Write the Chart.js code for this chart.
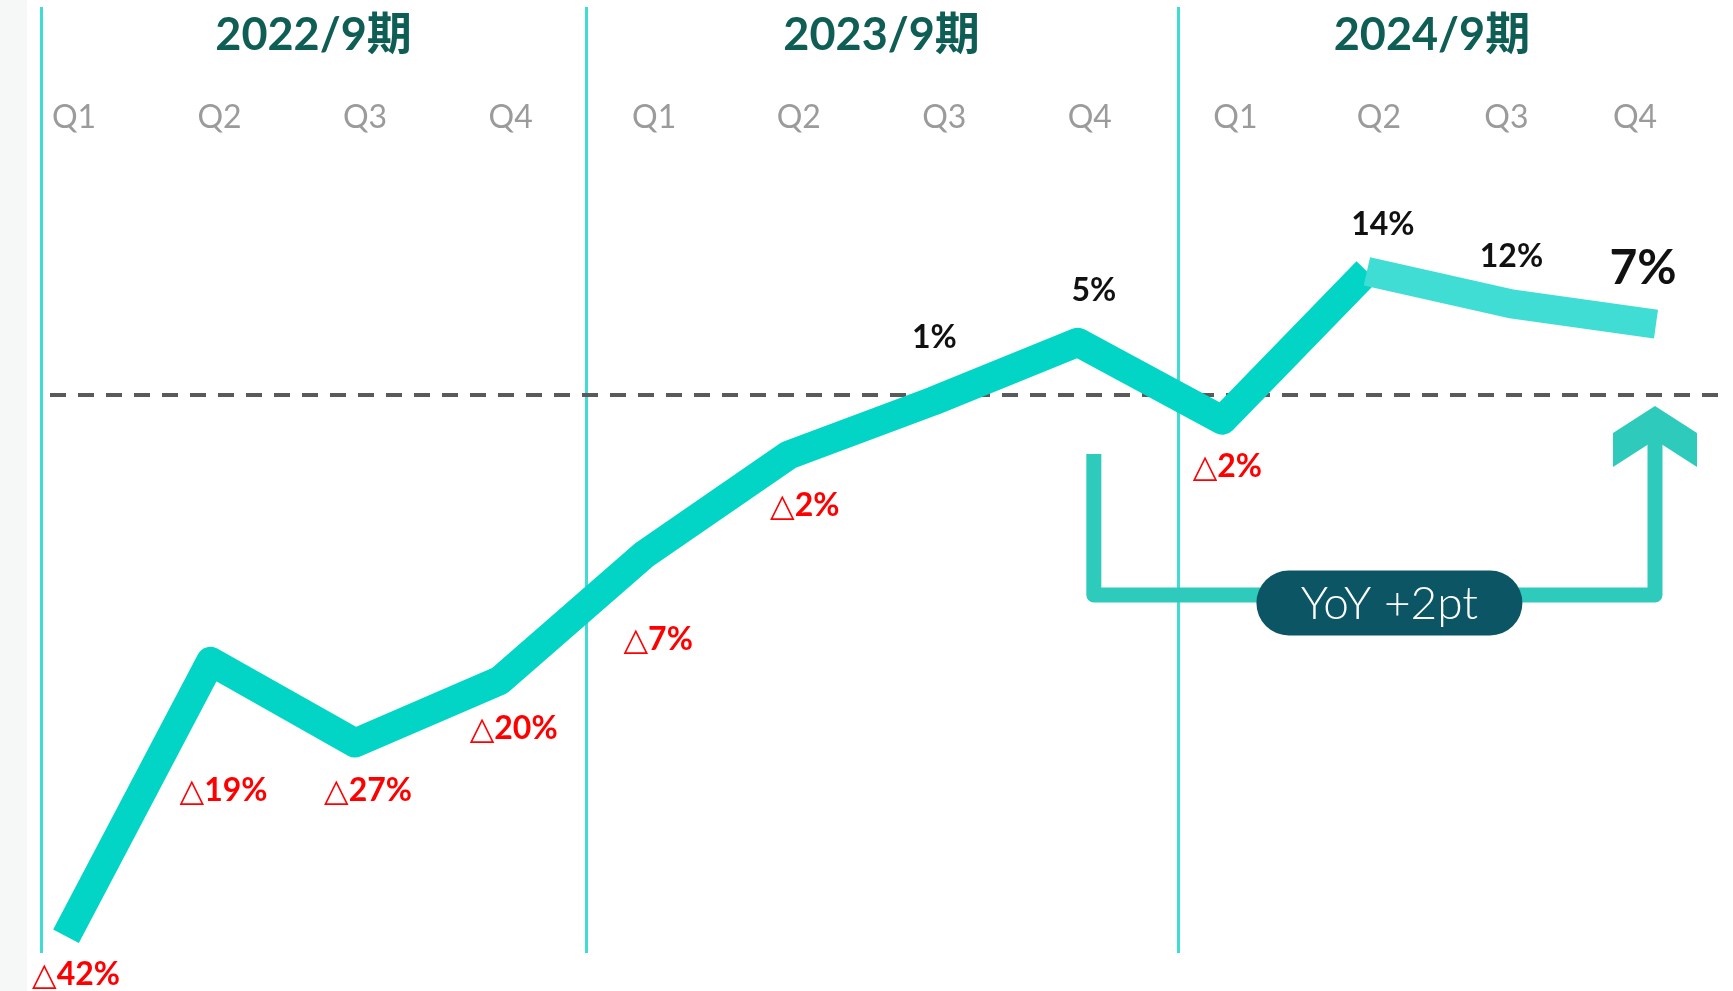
<!DOCTYPE html>
<html>
<head>
<meta charset="utf-8">
<script src="https://cdn.jsdelivr.net/npm/chart.js@4"></script>
<style>
  html, body { margin: 0; padding: 0; background: #fff; }
  #wrap { width: 1733px; height: 991px; }
</style>
</head>
<body>
<div id="wrap"><canvas id="yoyChart" width="1733" height="991"></canvas></div>
<script>
// data
const quarters = ['Q1', 'Q2', 'Q3', 'Q4', 'Q1', 'Q2', 'Q3', 'Q4', 'Q1', 'Q2', 'Q3', 'Q4'];
const fiscalYears = ['2022/9期', '2023/9期', '2024/9期'];
const lineLevel = [-45.1, -22.2, -29.0, -23.8, -13.3, -5.0, -0.5, 4.4, -2.1, 10.3, 7.6, 5.9];
const yoyLabels = ['△42%', '△19%', '△27%', '△20%', '△7%', '△2%', '1%', '5%', '△2%', '14%', '12%', '7%'];
const badgeText = 'YoY +2pt';

// layout (label nudges, period borders in category units)
const periodBounds = [-0.17, 3.595, 7.69, 11.21];
const quarterDx = [8, 9, 10, 11, 10, 10, 11, 12, 13, 12, -5, -21];
const labelDx = [10, 13, 13, 14, 14, 16, 1, 16, 5, 16, 0, -13];
const labelDy = [37, 128, 46, 47, 84, 49, -65, -53, 45, -48, -48, -57];

const MAIN = '#02d5c6';
const LIGHT = '#40ddd5';
const BRACKET = '#2ecbbc';
const FONT = 'Lato, "DejaVu Sans", "Noto Sans CJK JP", sans-serif';

const overlay = {
  id: 'overlay',
  beforeDraw(chart) {
    const { ctx, scales: { x, y } } = chart;
    ctx.save();
    ctx.fillStyle = '#fff';
    ctx.fillRect(0, 0, chart.width, chart.height);
    ctx.fillStyle = '#f6f8f8';
    ctx.fillRect(0, 0, 27, chart.height);

    // period dividers
    ctx.strokeStyle = '#3fdcd6';
    ctx.lineWidth = 3;
    for (let i = 0; i < 3; i++) {
      const px = Math.round(x.getPixelForValue(periodBounds[i])) + 0.5;
      ctx.beginPath();
      ctx.moveTo(px, 7);
      ctx.lineTo(px, 953);
      ctx.stroke();
    }

    // zero line
    const y0 = y.getPixelForValue(0);
    ctx.setLineDash([16, 12]);
    ctx.strokeStyle = '#5a5a5a';
    ctx.lineWidth = 4;
    ctx.beginPath();
    ctx.moveTo(50, y0);
    ctx.lineTo(1722, y0);
    ctx.stroke();
    ctx.setLineDash([]);

    // fiscal year headers
    ctx.textAlign = 'center';
    ctx.textBaseline = 'alphabetic';
    ctx.fillStyle = '#0f5e55';
    ctx.font = 'bold 45px ' + FONT;
    fiscalYears.forEach((t, i) => {
      const cx = (x.getPixelForValue(periodBounds[i]) + x.getPixelForValue(periodBounds[i + 1])) / 2;
      ctx.fillText(t, cx, 34 + 16);
    });

    // quarter labels
    ctx.fillStyle = '#9b9b9b';
    ctx.font = '32px ' + FONT;
    quarters.forEach((q, i) => {
      ctx.fillText(q, x.getPixelForValue(i) + quarterDx[i], 116 + 11.5);
    });
    ctx.restore();
  },
  afterDatasetsDraw(chart) {
    const { ctx, scales: { x, y } } = chart;
    const y0 = y.getPixelForValue(0);
    ctx.save();

    // value labels
    ctx.textAlign = 'center';
    ctx.textBaseline = 'alphabetic';
    yoyLabels.forEach((t, i) => {
      const size = i === yoyLabels.length - 1 ? 48 : 32;
      ctx.font = 'bold ' + size + 'px ' + FONT;
      ctx.fillStyle = t.startsWith('△') ? '#ff0000' : '#111';
      const px = x.getPixelForValue(i) + labelDx[i];
      const py = y.getPixelForValue(lineLevel[i]) + labelDy[i];
      ctx.fillText(t, px, py + size * 0.36);
    });

    // YoY bracket + arrow
    const left = x.getPixelForValue(7) + 16;
    const right = x.getPixelForValue(11) - 1;
    const top = y0 + 59;
    const bottom = y0 + 200;
    const tip = y0 + 11;
    ctx.strokeStyle = BRACKET;
    ctx.fillStyle = BRACKET;
    ctx.lineWidth = 15;
    ctx.lineJoin = 'round';
    ctx.lineCap = 'butt';
    ctx.beginPath();
    ctx.moveTo(left, top);
    ctx.lineTo(left, bottom);
    ctx.lineTo(right, bottom);
    ctx.lineTo(right, tip + 30);
    ctx.stroke();
    ctx.beginPath();
    ctx.moveTo(right, tip);
    ctx.lineTo(right + 42, tip + 27);
    ctx.lineTo(right + 42, tip + 61);
    ctx.lineTo(right, tip + 34);
    ctx.lineTo(right - 42, tip + 61);
    ctx.lineTo(right - 42, tip + 27);
    ctx.closePath();
    ctx.fill();

    // badge
    const bw = 266, bh = 65;
    const bx = (left + right) / 2 + 15 - bw / 2;
    const by = y0 + 208 - bh / 2;
    ctx.fillStyle = '#0b5565';
    ctx.beginPath();
    ctx.roundRect(bx, by, bw, bh, bh / 2);
    ctx.fill();
    ctx.fillStyle = '#fff';
    ctx.font = '300 46px ' + FONT;
    ctx.fillText(badgeText, bx + bw / 2, by + bh / 2 + 16);
    ctx.restore();
  }
};

const ctx = document.getElementById('yoyChart').getContext('2d');

new Chart(ctx, {
  type: 'line',
  data: {
    labels: quarters,
    datasets: [{
      data: lineLevel,
      borderColor: MAIN,
      borderWidth: 29,
      borderJoinStyle: 'round',
      borderCapStyle: 'butt',
      pointRadius: 0,
      tension: 0,
      clip: false,
      segment: {
        borderColor: c => c.p0DataIndex >= 9 ? LIGHT : undefined
      }
    }]
  },
  options: {
    responsive: false,
    animation: false,
    events: [],
    layout: { padding: { left: 66, right: 77, top: 155, bottom: 20 } },
    plugins: {
      legend: { display: false },
      tooltip: { enabled: false }
    },
    scales: {
      x: { type: 'category', display: false, offset: false },
      y: { type: 'linear', display: false, min: -48, max: 20 }
    }
  },
  plugins: [overlay]
});
</script>
</body>
</html>
